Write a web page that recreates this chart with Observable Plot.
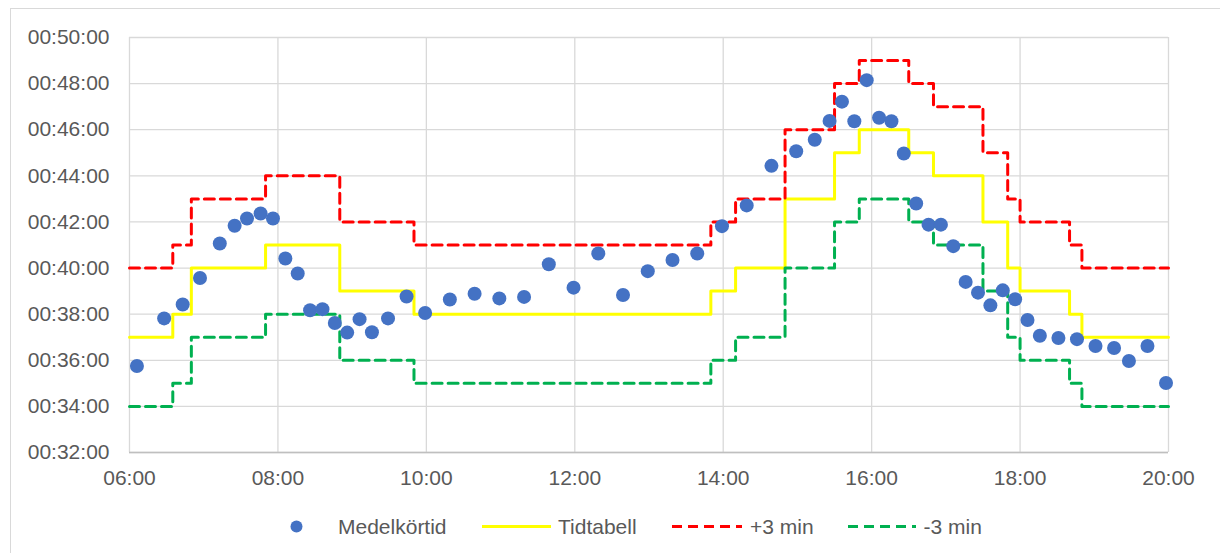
<!DOCTYPE html>
<html>
<head>
<meta charset="utf-8">
<script src="https://cdn.jsdelivr.net/npm/d3@7"></script>
<script src="https://cdn.jsdelivr.net/npm/@observablehq/plot@0.6"></script>
<style>
  html, body { margin: 0; padding: 0; background: #fff; width: 1220px; height: 553px; overflow: hidden; position: relative; font-family: "Liberation Sans", Arial, sans-serif; }
  #frame { position: absolute; left: 10px; top: 8px; width: 1300px; height: 700px; border: 1px solid #d9d9d9; box-sizing: border-box; }
  #chart { position: absolute; left: 0; top: 0; }
  #legend { position: absolute; left: 0; top: 500px; }
</style>
</head>
<body>
<div id="frame"></div>
<div id="chart"></div>
<svg id="legend" width="1220" height="53"></svg>
<script>
// ---- data ----
const seriesNames = ["Medelkörtid", "Tidtabell", "+3 min", "-3 min"];
const seriesColors = ["#4472C4", "#FFFF00", "#FF0000", "#00B050"];

const avgTimes = ["06:06","06:28","06:43","06:57","07:13","07:25","07:35","07:46","07:56","08:06",
  "08:16","08:26","08:36","08:46","08:56","09:06","09:16","09:29","09:44","09:59",
  "10:19","10:39","10:59","11:19","11:39","11:59","12:19","12:39","12:59","13:19",
  "13:39","13:59","14:19","14:39","14:59","15:14","15:26","15:36","15:46","15:56",
  "16:06","16:16","16:26","16:36","16:46","16:56","17:06","17:16","17:26","17:36",
  "17:46","17:56","18:06","18:16","18:31","18:46","19:01","19:16","19:28","19:43","19:58"];
const avgRunTime = ["35:45","37:49","38:25","39:34","41:04","41:50","42:09","42:22","42:09","40:25",
  "39:46","38:10","38:13","37:37","37:12","37:47","37:13","37:49","38:46","38:03",
  "38:38","38:53","38:41","38:45","40:10","39:09","40:38","38:50","39:52","40:21",
  "40:38","41:49","42:43","44:26","45:04","45:34","46:23","47:13","46:22","48:09",
  "46:31","46:22","44:58","42:48","41:53","41:53","40:57","39:24","38:56","38:23",
  "39:02","38:39","37:45","37:04","36:58","36:55","36:37","36:32","35:58","36:37","35:01"];

const stepStart = ["06:00","06:35","06:50","07:50","08:50","09:50","13:50","14:10","14:50","15:30",
  "15:50","16:30","16:50","17:30","17:50","18:00","18:40","18:50","20:00"];
const tidtabell = [37,38,40,41,39,38,39,40,43,45,46,45,44,42,40,39,38,37,37];
const plus3 = [40,41,43,44,42,41,42,43,46,48,49,48,47,45,43,42,41,40,40];
const minus3 = [34,35,37,38,36,35,36,37,40,42,43,42,41,39,37,36,35,34,34];

const xTicks = [6, 8, 10, 12, 14, 16, 18, 20];
const yTicks = [32, 34, 36, 38, 40, 42, 44, 46, 48, 50];

// ---- helpers ----
const hm = s => { const [h, m] = s.split(":").map(Number); return h + m / 60; };
const ms = s => { const [m, sec] = s.split(":").map(Number); return m + sec / 60; };
const pad = n => String(n).padStart(2, "0");

const avgData = avgTimes.map((t, i) => ({x: hm(t), y: ms(avgRunTime[i])}));
const stepData = (vals, name) => stepStart.map((t, i) => ({x: hm(t), y: vals[i], s: name}));

const chart = Plot.plot({
  width: 1220,
  height: 500,
  marginLeft: 129,
  marginRight: 52,
  marginTop: 37,
  marginBottom: 48,
  style: {fontFamily: "'Liberation Sans', Arial, sans-serif", fontSize: "21px", color: "#595959", background: "transparent"},
  x: {domain: [6, 20], label: null},
  y: {domain: [32, 50], label: null},
  marks: [
    Plot.gridX(xTicks, {stroke: "#d9d9d9", strokeOpacity: 1, strokeWidth: 1.3}),
    Plot.gridY(yTicks, {stroke: "#d9d9d9", strokeOpacity: 1, strokeWidth: 1.3}),
    Plot.ruleY([32], {stroke: "#bfbfbf", strokeWidth: 1.3}),
    Plot.axisX(xTicks, {tickSize: 0, tickPadding: 18, tickFormat: d => pad(d) + ":00", fontSize: 21}),
    Plot.axisY(yTicks, {tickSize: 0, tickPadding: 20, tickFormat: d => "00:" + pad(d) + ":00", fontSize: 21}),
    Plot.line(stepData(tidtabell, seriesNames[1]), {x: "x", y: "y", curve: "step-after", stroke: seriesColors[1], strokeWidth: 3}),
    Plot.line(stepData(plus3, seriesNames[2]), {x: "x", y: "y", curve: "step-after", stroke: seriesColors[2], strokeWidth: 3, strokeDasharray: "10,6"}),
    Plot.line(stepData(minus3, seriesNames[3]), {x: "x", y: "y", curve: "step-after", stroke: seriesColors[3], strokeWidth: 3, strokeDasharray: "10,6"}),
    Plot.dot(avgData, {x: "x", y: "y", r: 7, fill: seriesColors[0], stroke: "none"})
  ]
});
document.getElementById("chart").appendChild(chart);

// ---- legend ----
const lg = d3.select("#legend");
const cy = 26.5;
lg.append("circle").attr("cx", 296.5).attr("cy", cy).attr("r", 6).attr("fill", seriesColors[0]);
lg.append("line").attr("x1", 482).attr("x2", 551).attr("y1", cy).attr("y2", cy).attr("stroke", seriesColors[1]).attr("stroke-width", 3);
lg.append("line").attr("x1", 672).attr("x2", 742).attr("y1", cy).attr("y2", cy).attr("stroke", seriesColors[2]).attr("stroke-width", 3).attr("stroke-dasharray", "10,6");
lg.append("line").attr("x1", 848).attr("x2", 916).attr("y1", cy).attr("y2", cy).attr("stroke", seriesColors[3]).attr("stroke-width", 3).attr("stroke-dasharray", "10,6");
const labelX = [338, 558, 750, 923.5];
seriesNames.forEach((name, i) => {
  lg.append("text").attr("x", labelX[i]).attr("y", cy + 7.5)
    .attr("font-family", "'Liberation Sans', Arial, sans-serif").attr("font-size", 21)
    .attr("fill", "#595959").text(name);
});
</script>
</body>
</html>
